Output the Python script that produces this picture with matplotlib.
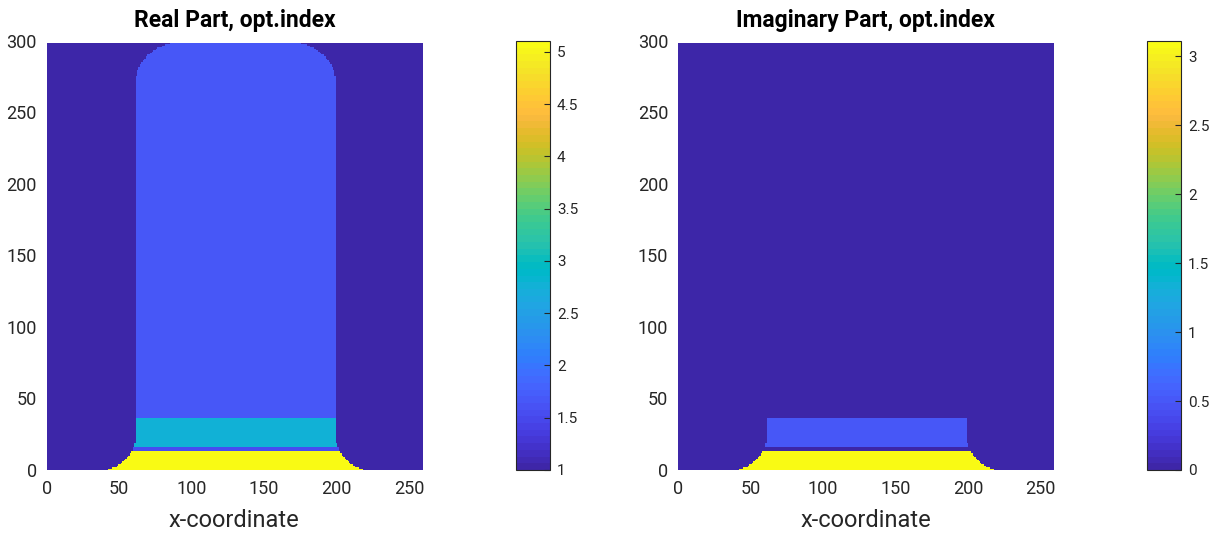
import numpy as np
import matplotlib.pyplot as plt
from matplotlib.colors import ListedColormap

plt.rcParams['font.family'] = ['Roboto', 'DejaVu Sans']

# MATLAB parula (64 entries)
parula = ListedColormap([
    [0.2422, 0.1504, 0.6603], [0.2504, 0.1650, 0.7076], [0.2578, 0.1818, 0.7511],
    [0.2647, 0.1978, 0.7952], [0.2706, 0.2147, 0.8364], [0.2751, 0.2342, 0.8710],
    [0.2783, 0.2559, 0.8991], [0.2803, 0.2782, 0.9221], [0.2813, 0.3006, 0.9414],
    [0.2810, 0.3228, 0.9579], [0.2795, 0.3447, 0.9717], [0.2760, 0.3667, 0.9829],
    [0.2699, 0.3892, 0.9906], [0.2602, 0.4123, 0.9952], [0.2440, 0.4358, 0.9988],
    [0.2206, 0.4603, 0.9973], [0.1963, 0.4847, 0.9892], [0.1834, 0.5074, 0.9798],
    [0.1786, 0.5289, 0.9682], [0.1764, 0.5499, 0.9520], [0.1687, 0.5703, 0.9359],
    [0.1540, 0.5902, 0.9218], [0.1460, 0.6091, 0.9079], [0.1380, 0.6276, 0.8973],
    [0.1248, 0.6459, 0.8883], [0.1113, 0.6635, 0.8763], [0.0952, 0.6798, 0.8598],
    [0.0689, 0.6948, 0.8394], [0.0297, 0.7082, 0.8163], [0.0036, 0.7203, 0.7917],
    [0.0067, 0.7312, 0.7660], [0.0433, 0.7411, 0.7394], [0.0964, 0.7500, 0.7120],
    [0.1408, 0.7584, 0.6842], [0.1717, 0.7670, 0.6554], [0.1938, 0.7758, 0.6251],
    [0.2161, 0.7843, 0.5923], [0.2470, 0.7918, 0.5567], [0.2906, 0.7973, 0.5188],
    [0.3406, 0.8008, 0.4789], [0.3909, 0.8029, 0.4354], [0.4456, 0.8024, 0.3909],
    [0.5044, 0.7993, 0.3480], [0.5616, 0.7942, 0.3045], [0.6174, 0.7876, 0.2612],
    [0.6720, 0.7793, 0.2227], [0.7242, 0.7698, 0.1910], [0.7738, 0.7598, 0.1646],
    [0.8203, 0.7498, 0.1535], [0.8634, 0.7406, 0.1596], [0.9035, 0.7330, 0.1774],
    [0.9393, 0.7288, 0.2100], [0.9728, 0.7298, 0.2394], [0.9956, 0.7434, 0.2371],
    [0.9970, 0.7659, 0.2199], [0.9952, 0.7893, 0.2028], [0.9892, 0.8136, 0.1885],
    [0.9786, 0.8386, 0.1766], [0.9676, 0.8639, 0.1643], [0.9610, 0.8890, 0.1537],
    [0.9597, 0.9135, 0.1423], [0.9628, 0.9373, 0.1265], [0.9691, 0.9606, 0.1064],
    [0.9769, 0.9839, 0.0805]])

# ---- data: structure geometry and optical index per layer ----
nx, ny = 260, 298
pillar_left, pillar_right = 61, 199
foot_radius = 24
top_radius_x, top_radius_y = 30, 28
layer_tops = [13.3, 16, 36.4, 298]          # substrate, thin layer, band, resist
n_real = [5.1, 1.55, 2.76, 1.65]
n_imag = [3.11, 0.0, 0.5, 0.0]
bg_real, bg_imag = 1.0, 0.0
real_ticks = [1, 1.5, 2, 2.5, 3, 3.5, 4, 4.5, 5]
imag_ticks = [0, 0.5, 1, 1.5, 2, 2.5, 3]

x = np.arange(nx) + 0.5
y = np.arange(ny) + 0.5
X, Y = np.meshgrid(x, y)

# material mask: pillar with rounded top and concave feet
inside = (X >= pillar_left) & (X <= pillar_right)
cy = ny - top_radius_y
for cx, side in [(pillar_left + top_radius_x, -1), (pillar_right - top_radius_x, 1)]:
    corner = (Y > cy) & (side * (X - cx) > 0)
    outside = ((X - cx) / top_radius_x) ** 2 + ((Y - cy) / top_radius_y) ** 2 > 1
    inside &= ~(corner & outside)
for cx, side in [(pillar_left - foot_radius, 1), (pillar_right + foot_radius, -1)]:
    near = (Y < foot_radius) & (side * (X - cx) > 0) & (np.abs(X - cx) < foot_radius)
    fill = near & ((X - cx) ** 2 + (Y - foot_radius) ** 2 > foot_radius ** 2)
    inside |= fill

layer = np.clip(np.searchsorted(layer_tops, Y), 0, len(layer_tops) - 1)
real_map = np.where(inside, np.array(n_real)[layer], bg_real)
imag_map = np.where(inside, np.array(n_imag)[layer], bg_imag)

fig = plt.figure(figsize=(12.19, 5.35), dpi=100)

panels = [
    (real_map, 'Real Part, opt.index', 0.0383, 0.4233, (1, 5.105), real_ticks),
    (imag_map, 'Imaginary Part, opt.index', 0.5562, 0.9409, (0, 3.11), imag_ticks),
]
for data, title, ax_x, cb_x, clim, cticks in panels:
    ax = fig.add_axes([ax_x, 0.1215, 0.3079, 0.8019])
    im = ax.imshow(data, origin='lower', extent=[0, nx, 0, ny], cmap=parula,
                   vmin=clim[0], vmax=clim[1], aspect='auto', interpolation='nearest')
    ax.set_xlim(0, 259)
    ax.set_ylim(0, 300)
    ax.set_xticks([0, 50, 100, 150, 200, 250])
    ax.set_yticks([0, 50, 100, 150, 200, 250, 300])
    ax.tick_params(length=0, labelsize=13, pad=7, colors='#262626')
    for s in ax.spines.values():
        s.set_visible(False)
    ax.set_title(title, fontsize=16.5, fontweight='bold', pad=10)
    ax.set_xlabel('x-coordinate', fontsize=17, color='#262626', labelpad=8)

    cax = fig.add_axes([cb_x, 0.1215, 0.0279, 0.8019])
    cb = fig.colorbar(im, cax=cax)
    cb.set_ticks(cticks)
    cb.set_ticklabels([f'{t:g}' for t in cticks])
    cax.tick_params(direction='in', length=4, width=0.8, labelsize=11, pad=5, colors='#262626')
    cb.outline.set_linewidth(0.8)
    cb.outline.set_edgecolor('#262626')

fig.savefig('out.png', dpi=100)
